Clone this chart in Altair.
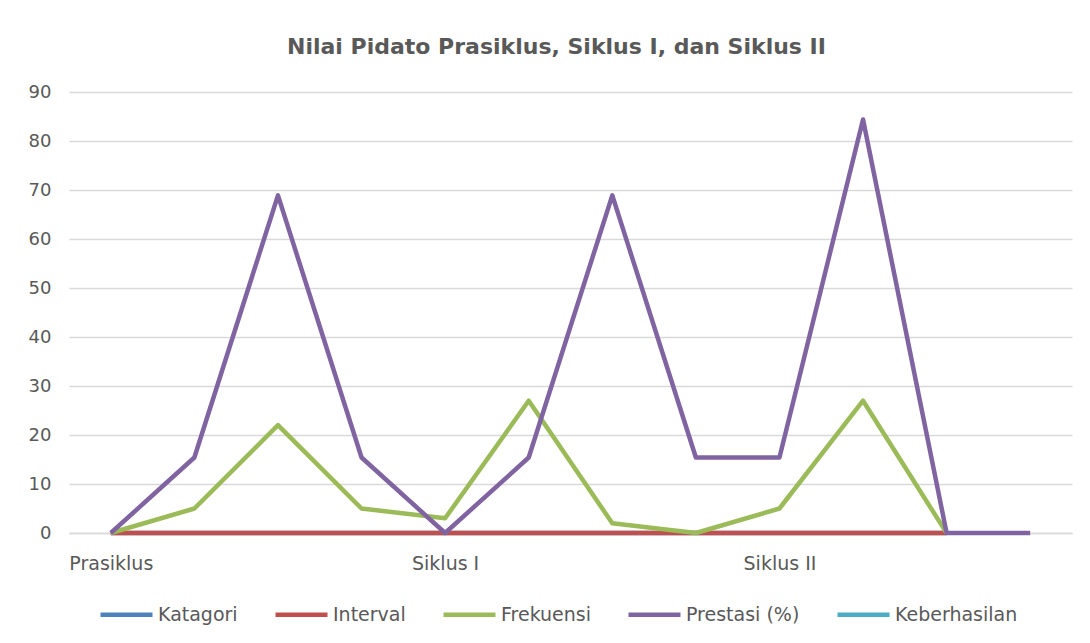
import json
import altair as alt
import pandas as pd

# ---- data ----
cat_index = list(range(12))
cat_labels = ["Prasiklus", "", "", "", "Siklus I", "", "", "", "Siklus II", "", "", ""]
series_names = ["Katagori", "Interval", "Frekuensi", "Prestasi (%)", "Keberhasilan"]
katagori = [0, 0, 0, 0, 0, 0, 0, 0, 0, 0, 0, None]
interval = [0, 0, 0, 0, 0, 0, 0, 0, 0, 0, 0, None]
frekuensi = [0, 5, 22, 5, 3, 27, 2, 0, 5, 27, 0, None]
prestasi = [0, 15.4, 68.9, 15.4, 0, 15.4, 68.9, 15.4, 15.4, 84.4, 0, 0]
keberhasilan = [None] * 12
series_colors = ["#4F81BD", "#C0504D", "#9BBB59", "#8064A2", "#4BACC6"]
y_ticks = [0, 10, 20, 30, 40, 50, 60, 70, 80, 90]

rows = []
for name, vals in zip(series_names, [katagori, interval, frekuensi, prestasi, keberhasilan]):
    for i, v in zip(cat_index, vals):
        if v is not None:
            rows.append({"series": name, "idx": i, "value": v, "ord": series_names.index(name)})
df = pd.DataFrame(rows)

FONT = "DejaVu Sans"
GRAY = "#595959"
label_expr = json.dumps(cat_labels) + "[datum.value]"

chart = alt.Chart(df).mark_line(strokeWidth=4.5, strokeJoin="round").encode(
    x=alt.X("idx:O",
            scale=alt.Scale(type="point", padding=0.5, domain=cat_index),
            axis=alt.Axis(title=None, labelExpr=label_expr, labelAngle=0, ticks=False,
                          domainColor="#D9D9D9", domainWidth=1.5, labelPadding=21,
                          labelFontSize=19, labelColor=GRAY, labelFont=FONT,
                          labelOverlap=False, grid=False)),
    y=alt.Y("value:Q",
            scale=alt.Scale(domain=[0, 90], nice=False),
            axis=alt.Axis(title=None, values=y_ticks, domain=False, ticks=False,
                          gridColor="#D9D9D9", gridWidth=1.5, labelPadding=18,
                          labelFontSize=18, labelColor=GRAY, labelFont=FONT)),
    color=alt.Color("series:N",
                    scale=alt.Scale(domain=series_names, range=series_colors),
                    sort=series_names,
                    legend=alt.Legend(title=None, orient="none", direction="horizontal",
                                      legendX=29, legendY=494, padding=0,
                                      symbolType="stroke", symbolSize=2704,
                                      symbolStrokeWidth=4.5, labelOffset=3,
                                      columnPadding=28, labelFontSize=19,
                                      labelColor=GRAY, labelFont=FONT)),
    order=alt.Order("ord:Q"),
).properties(
    width=1003,
    height=441,
    title=alt.TitleParams("Nilai Pidato Prasiklus, Siklus I, dan Siklus II",
                          fontSize=22, fontWeight="bold", color=GRAY, font=FONT,
                          anchor="middle", offset=24, dx=-14),
    autosize=alt.AutoSizeParams(type="none"),
    padding={"left": 61, "top": 84, "right": 10, "bottom": 100},
).configure(background="white", view=alt.ViewConfig(stroke=None))

chart.save("out.html", embed_options={"renderer": "svg", "actions": False})
